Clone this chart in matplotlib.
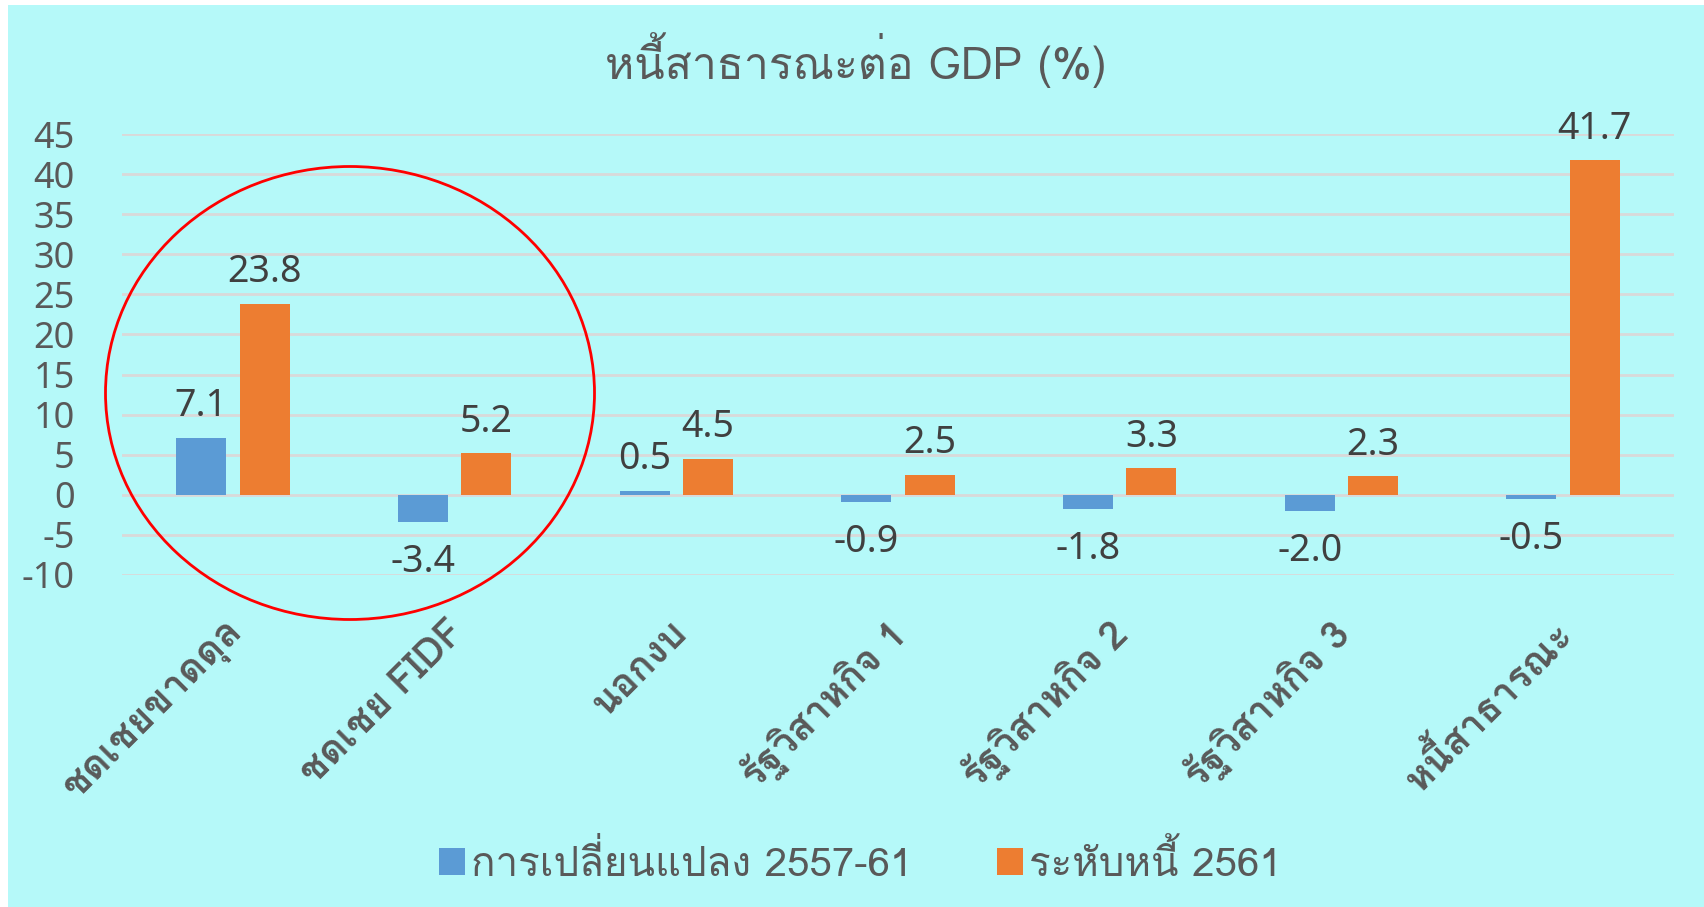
import matplotlib
matplotlib.use("Agg")
import matplotlib.pyplot as plt
from matplotlib.patches import Ellipse, Rectangle
import numpy as np

categories = ["ชดเชยขาดดุล", "ชดเชย FIDF", "นอกงบ", "รัฐวิสาหกิจ 1",
              "รัฐวิสาหกิจ 2", "รัฐวิสาหกิจ 3", "หนี้สาธารณะ"]
change_5761 = [7.1, -3.4, 0.5, -0.9, -1.8, -2.0, -0.5]
level_2561 = [23.8, 5.2, 4.5, 2.5, 3.3, 2.3, 41.7]
series_names = ["การเปลี่ยนแปลง 2557-61", "ระหับหนี้ 2561"]
title = "หนี้สาธารณะต่อ GDP (%)"
yticks = list(range(-10, 50, 5))

BG = "#B5F9F9"
BLUE = "#5B9BD5"
ORANGE = "#ED7D31"
GREY = "#595959"
DARK = "#404040"
FONT = ["Loma", "Noto Sans Thai Looped", "DejaVu Sans"]
NUMFONT = ["Noto Sans", "Open Sans", "DejaVu Sans"]

plt.rcParams["font.family"] = FONT

W, H = 1704, 907
fig = plt.figure(figsize=(W / 100, H / 100), dpi=100, facecolor="white")
bg = Rectangle((8 / W, 0), 1 - 8 / W, 1 - 5 / H, transform=fig.transFigure,
               facecolor=BG, edgecolor="none", zorder=-10)
fig.patches.append(bg)

ax = fig.add_axes([122 / W, 1 - 575 / H, (1674 - 122) / W, (575 - 134) / H])
ax.set_facecolor("none")

x = np.arange(len(categories))
bw = 0.225
off = 0.143
b1 = ax.bar(x - off, change_5761, bw, color=BLUE, zorder=3, label=series_names[0])
b2 = ax.bar(x + off, level_2561, bw, color=ORANGE, zorder=3, label=series_names[1])

for bars, vals in ((b1, change_5761), (b2, level_2561)):
    for r, v in zip(bars, vals):
        cx = r.get_x() + r.get_width() / 2
        if v >= 0:
            ax.annotate(f"{v:.1f}", (cx, v), xytext=(0, 9), textcoords="offset points",
                        ha="center", va="bottom", fontsize=27, color=DARK, family=NUMFONT)
        else:
            ax.annotate(f"{v:.1f}", (cx, v), xytext=(0, -15), textcoords="offset points",
                        ha="center", va="top", fontsize=27, color=DARK, family=NUMFONT)

ax.set_xlim(-0.5, len(categories) - 0.5)
ax.set_ylim(-10, 45)
ax.set_yticks(yticks)
ax.set_yticklabels([str(t) for t in yticks], fontsize=26, color=GREY, family=NUMFONT)
ax.yaxis.grid(True, color="#D9D9D9", lw=2, zorder=1)
ax.set_axisbelow(True)
ax.tick_params(axis="y", length=0, pad=34)
ax.tick_params(axis="x", length=0, pad=28)
ax.set_xticks(x + 0.08)
ax.set_xticklabels(categories, rotation=45, ha="right", va="top", fontsize=28,
                   fontweight="bold", color=GREY)
for s in ax.spines.values():
    s.set_visible(False)

fig.text(856 / W, 1 - 60 / H, title, ha="center", va="center", fontsize=32, color=GREY)

leg = fig.legend(handles=[b1, b2], labels=series_names, loc="center",
                 bbox_to_anchor=(860 / W, 1 - 862 / H), ncol=2, frameon=False,
                 fontsize=29, handlelength=0.65, handleheight=0.65, handletextpad=0.15,
                 columnspacing=2.1, labelcolor=GREY)

ell = Ellipse((350 / W, 1 - 393 / H), 489 / W, 453 / H, transform=fig.transFigure,
              facecolor="none", edgecolor="#FF0000", lw=2, zorder=10)
fig.patches.append(ell)

fig.savefig("out.png", dpi=100, facecolor="white")
